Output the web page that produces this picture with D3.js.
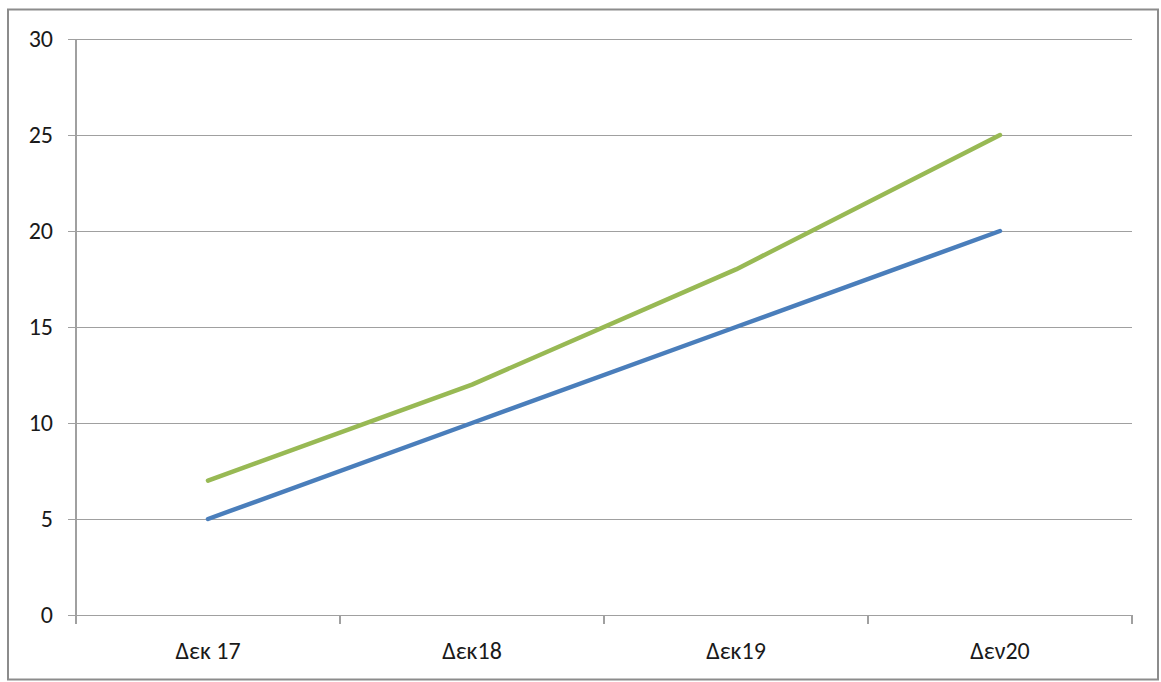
<!DOCTYPE html>
<html>
<head>
<meta charset="utf-8">
<script src="https://cdn.jsdelivr.net/npm/d3@7"></script>
<style>
  html, body { margin: 0; padding: 0; background: #fff; }
  svg { display: block; }
</style>
</head>
<body>
<svg id="chart" width="1161" height="682"></svg>
<script>
// Chart data
const categories = ["Δεκ 17", "Δεκ18", "Δεκ19", "Δεν20"];
const seriesBlue = [5, 10, 15, 20];
const seriesGreen = [7, 12, 18, 25];
const yTicks = [0, 5, 10, 15, 20, 25, 30];

const svg = d3.select("#chart");
const plot = { left: 76, right: 1132, top: 39, bottom: 615 };
const font = "Carlito, 'Open Sans', 'Noto Sans', sans-serif";
const fontSize = 24;

// Outer frame
svg.append("rect")
  .attr("x", 8).attr("y", 9.5)
  .attr("width", 1150).attr("height", 670)
  .attr("fill", "#fff")
  .attr("stroke", "#8c8c8c")
  .attr("stroke-width", 2);

const x = d3.scaleBand().domain(categories).range([plot.left, plot.right]).padding(0);
const y = d3.scaleLinear().domain([0, 30]).range([plot.bottom, plot.top]);

// Horizontal gridlines with small ticks to the left
const yAxis = d3.axisLeft(y).tickValues(yTicks)
  .tickSize(-(plot.right - plot.left)).tickPadding(23);
const gy = svg.append("g").attr("transform", `translate(${plot.left},0)`).call(yAxis);
gy.select(".domain").remove();
gy.selectAll(".tick line")
  .attr("x1", -8)
  .attr("stroke", "#a0a0a0").attr("stroke-width", 1.2)
  .attr("shape-rendering", "crispEdges");
gy.selectAll(".tick text")
  .attr("font-family", font).attr("font-size", fontSize).attr("fill", "#1a1a1a");

// Vertical axis line
svg.append("line")
  .attr("x1", plot.left).attr("x2", plot.left)
  .attr("y1", plot.top).attr("y2", plot.bottom + 9)
  .attr("stroke", "#a0a0a0").attr("stroke-width", 1.2)
  .attr("shape-rendering", "crispEdges");

// Category boundary ticks along the bottom
const bounds = categories.map(c => x(c)).concat([x(categories[categories.length - 1]) + x.bandwidth()]);
svg.append("g").selectAll("line").data(bounds).join("line")
  .attr("x1", d => d).attr("x2", d => d)
  .attr("y1", plot.bottom).attr("y2", plot.bottom + 9)
  .attr("stroke", "#a0a0a0").attr("stroke-width", 1.2)
  .attr("shape-rendering", "crispEdges");

// Category labels
svg.append("g").selectAll("text").data(categories).join("text")
  .attr("x", d => x(d) + x.bandwidth() / 2)
  .attr("y", 659)
  .attr("text-anchor", "middle")
  .attr("font-family", font).attr("font-size", fontSize).attr("fill", "#1a1a1a")
  .text(d => d);

// Series lines
const line = d3.line()
  .x((d, i) => x(categories[i]) + x.bandwidth() / 2)
  .y(d => y(d));

[[seriesBlue, "#4a7ebb"], [seriesGreen, "#98b954"]].forEach(([vals, color]) => {
  svg.append("path")
    .datum(vals)
    .attr("d", line)
    .attr("fill", "none")
    .attr("stroke", color)
    .attr("stroke-width", 4.5)
    .attr("stroke-linecap", "round")
    .attr("stroke-linejoin", "round");
});
</script>
</body>
</html>
